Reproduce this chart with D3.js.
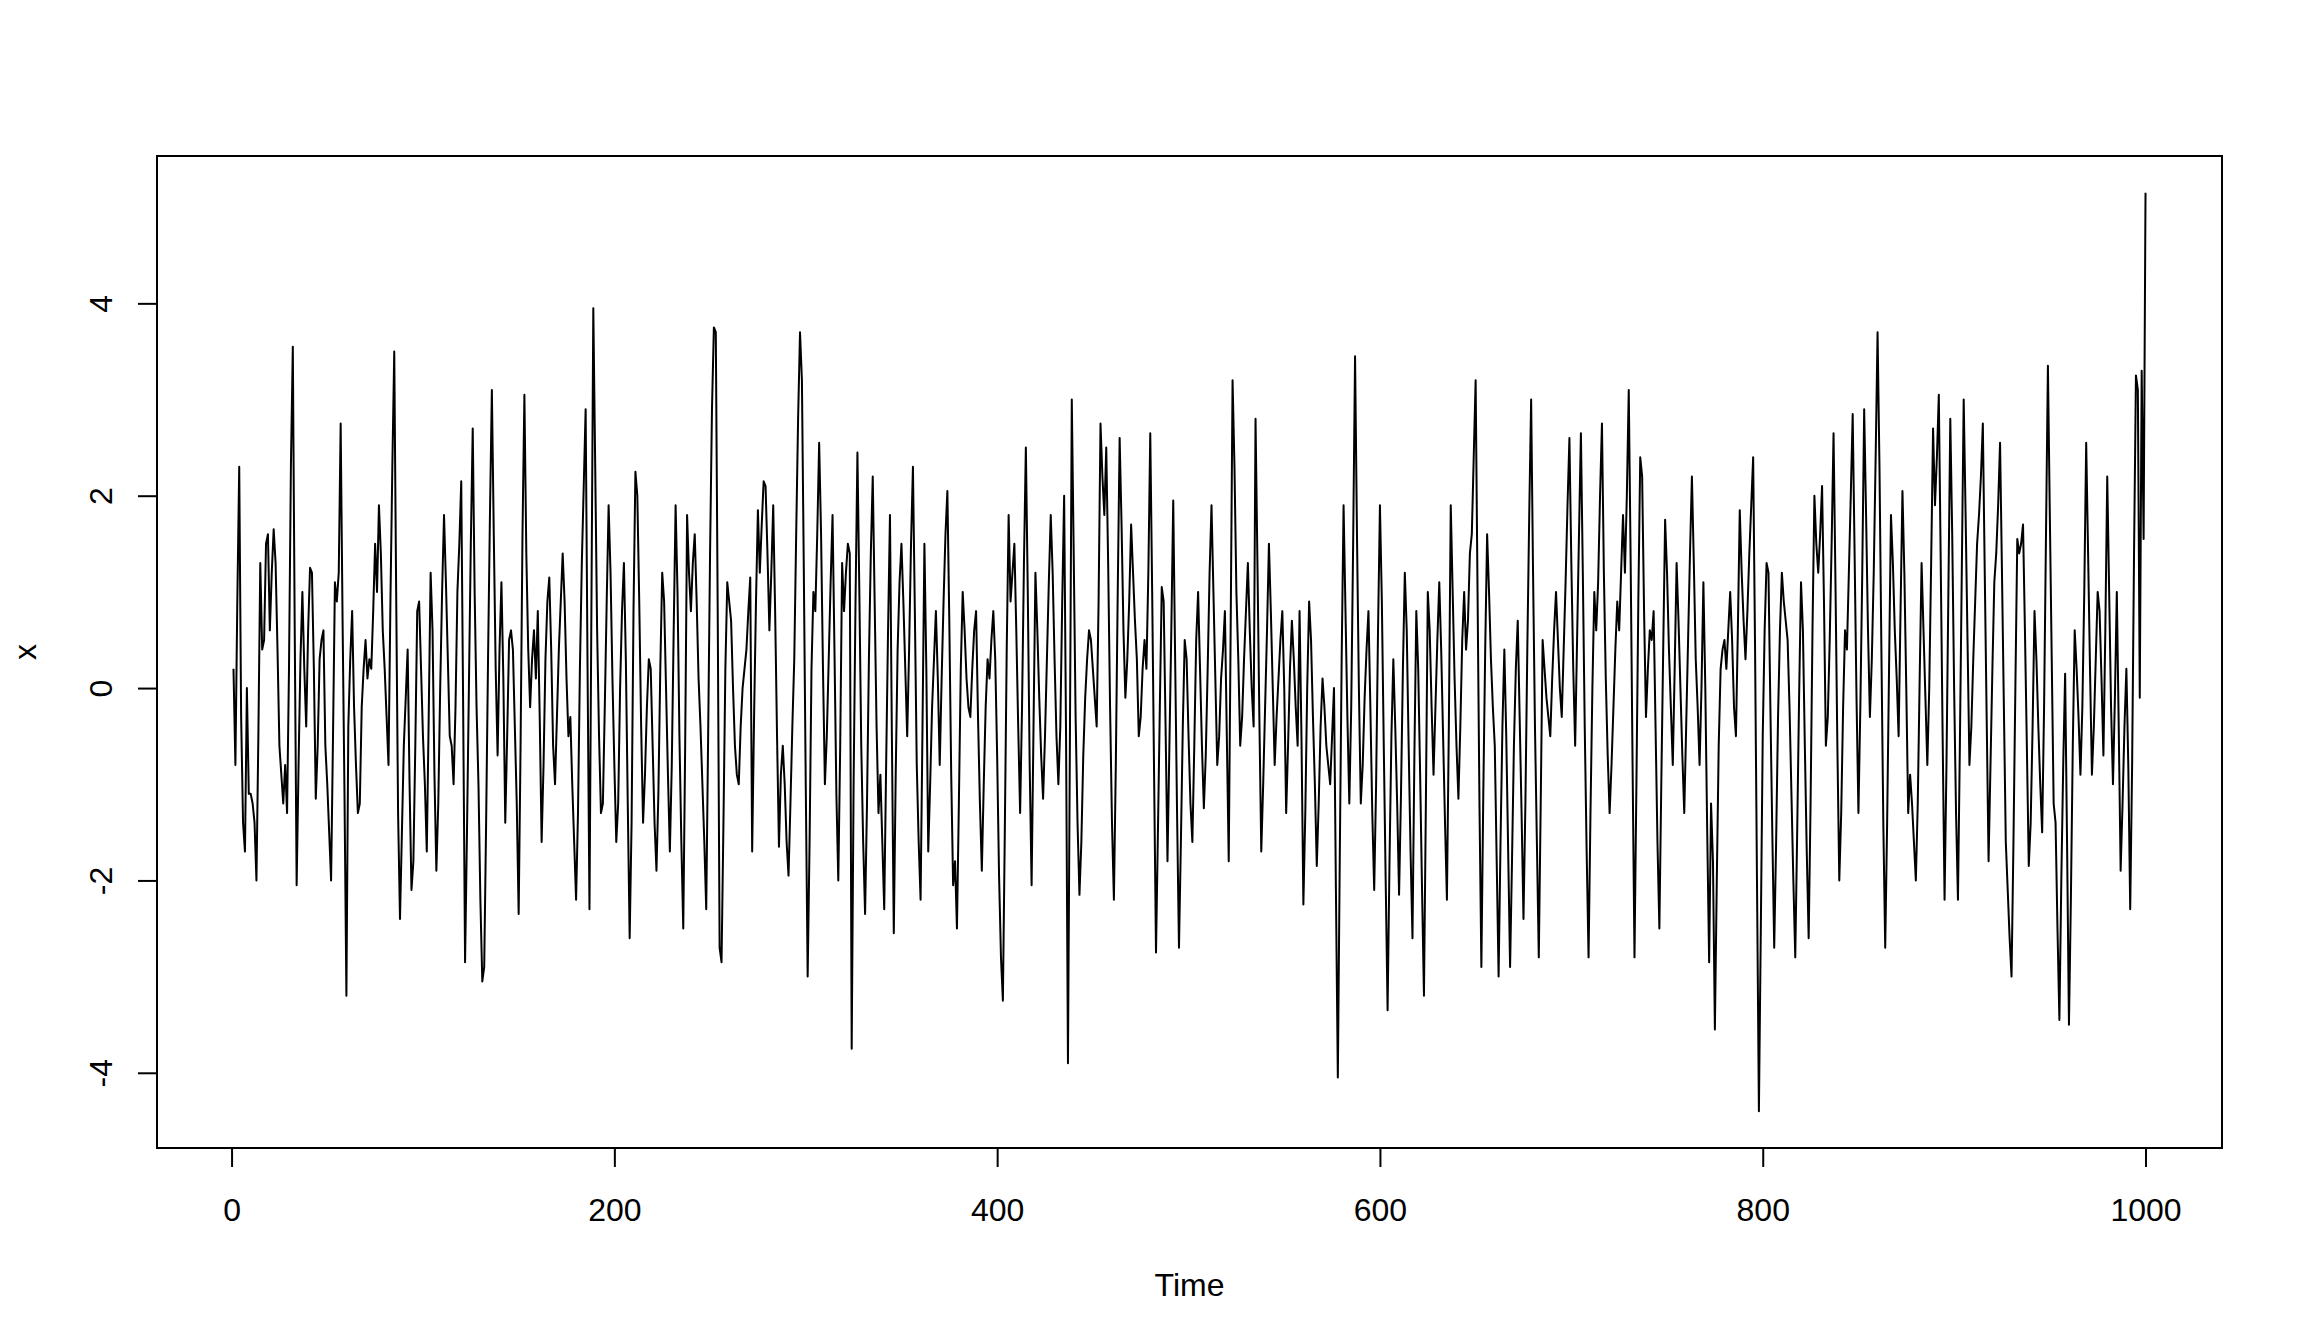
<!DOCTYPE html>
<html>
<head>
<meta charset="utf-8">
<script src="https://cdn.jsdelivr.net/npm/d3@7"></script>
<style>
  html, body { margin: 0; padding: 0; background: #ffffff; }
  svg text { font-family: "Liberation Sans", Arial, sans-serif; fill: #000; }
</style>
</head>
<body>
<svg id="chart" width="2304" height="1344"></svg>
<script>
// ---- data (time index 1..1000) ----
const xValues = [
 0.2,-0.8,0.9,2.3,-0.3,-1.4,-1.7,0.0,-1.1,-1.1,
 -1.2,-1.4,-2.0,-0.5,1.3,0.4,0.5,1.5,1.6,0.6,
 1.2,1.65,1.3,0.4,-0.6,-0.9,-1.2,-0.8,-1.3,0.2,
 2.3,3.55,0.6,-2.05,-0.8,0.3,1.0,0.2,-0.4,0.6,
 1.25,1.2,0.2,-1.15,-0.6,0.3,0.5,0.6,-0.6,-1.0,
 -1.5,-2.0,-0.5,1.1,0.9,1.2,2.75,0.7,-1.1,-3.2,
 -0.4,0.3,0.8,-0.2,-0.8,-1.3,-1.2,-0.2,0.2,0.5,
 0.1,0.3,0.2,0.8,1.5,1.0,1.9,1.4,0.6,0.2,
 -0.3,-0.8,0.9,2.3,3.5,1.0,-1.3,-2.4,-1.5,-0.6,
 -0.1,0.4,-1.0,-2.1,-1.8,-0.6,0.8,0.9,0.2,-0.5,
 -1.0,-1.7,-0.3,1.2,0.6,-0.9,-1.9,-1.2,0.0,1.0,
 1.8,1.1,0.3,-0.5,-0.6,-1.0,-0.2,1.0,1.5,2.15,
 -0.2,-2.85,-1.5,0.0,1.5,2.7,1.0,-0.2,-1.0,-2.2,
 -3.05,-2.9,-1.4,0.3,1.8,3.1,1.6,0.2,-0.7,0.4,
 1.1,0.1,-1.4,-0.5,0.5,0.6,0.4,-0.4,-1.2,-2.35,
 -0.6,1.6,3.05,1.4,0.4,-0.2,0.3,0.6,0.1,0.8,
 -0.3,-1.6,-0.8,0.3,0.9,1.15,0.4,-0.6,-1.0,-0.3,
 0.4,0.9,1.4,0.9,0.1,-0.5,-0.3,-1.0,-1.6,-2.2,
 -1.3,0.2,1.3,2.1,2.9,0.2,-2.3,0.8,3.95,2.3,
 0.6,-0.5,-1.3,-1.2,-0.2,0.9,1.9,1.2,0.1,-0.8,
 -1.6,-1.2,0.0,0.8,1.3,0.3,-1.2,-2.6,-1.4,0.8,
 2.25,2.0,0.9,-0.4,-1.4,-0.9,-0.2,0.3,0.2,-0.6,
 -1.4,-1.9,-1.1,0.2,1.2,0.9,0.0,-0.9,-1.7,-0.8,
 0.6,1.9,1.0,-0.5,-1.6,-2.5,-0.6,1.8,1.2,0.8,
 1.3,1.6,0.9,0.1,-0.4,-1.0,-1.6,-2.3,-0.5,1.4,
 2.9,3.75,3.7,0.8,-2.7,-2.85,-1.4,0.2,1.1,0.9,
 0.7,0.0,-0.6,-0.9,-1.0,-0.4,0.0,0.2,0.4,0.8,
 1.15,-1.7,-0.3,0.9,1.85,1.2,1.7,2.15,2.1,1.4,
 0.6,1.2,1.9,0.8,-0.5,-1.65,-0.9,-0.6,-1.0,-1.6,
 -1.95,-1.2,-0.4,0.3,1.6,2.8,3.7,3.2,1.2,-1.0,
 -3.0,-1.6,0.2,1.0,0.8,1.6,2.55,1.6,0.2,-1.0,
 -0.5,0.3,1.1,1.8,0.4,-1.1,-2.0,-0.6,1.3,0.8,
 1.2,1.5,1.4,-3.75,-1.0,0.9,2.45,1.0,-0.6,-1.6,
 -2.35,-1.2,0.3,1.4,2.2,0.9,-0.4,-1.3,-0.9,-1.6,
 -2.3,-0.8,0.6,1.8,-0.5,-2.55,-0.9,0.4,1.1,1.5,
 0.9,0.2,-0.5,0.4,1.5,2.3,0.8,-0.8,-1.6,-2.2,
 -0.4,1.5,0.2,-1.7,-1.0,-0.2,0.3,0.8,0.1,-0.8,
 0.1,0.9,1.6,2.05,0.7,-0.9,-2.05,-1.8,-2.5,-1.2,
 0.2,1.0,0.6,0.1,-0.2,-0.3,0.2,0.6,0.8,-0.3,
 -1.2,-1.9,-1.0,-0.2,0.3,0.1,0.5,0.8,0.3,-0.7,
 -1.95,-2.8,-3.25,-1.5,0.4,1.8,0.9,1.2,1.5,0.6,
 -0.4,-1.3,-0.2,1.3,2.5,1.0,-0.8,-2.05,-0.4,1.2,
 0.6,-0.1,-0.7,-1.15,-0.5,0.3,1.1,1.8,1.2,0.3,
 -0.5,-1.0,-0.4,0.9,2.0,-0.5,-3.9,-0.6,3.0,1.4,
 -0.3,-1.4,-2.15,-1.6,-0.7,-0.1,0.3,0.6,0.5,0.2,
 -0.1,-0.4,0.9,2.75,2.2,1.8,2.5,1.3,-0.2,-1.4,
 -2.2,-0.8,1.0,2.6,1.7,0.6,-0.1,0.3,0.9,1.7,
 1.2,0.7,0.3,-0.5,-0.3,0.2,0.5,0.2,1.2,2.65,
 1.0,-0.9,-2.75,-1.5,-0.2,1.05,0.9,-0.4,-1.8,-0.6,
 0.6,1.95,0.3,-1.3,-2.7,-1.6,-0.4,0.5,0.3,-0.5,
 -1.2,-1.6,-0.6,0.5,1.0,0.2,-0.6,-1.25,-0.7,0.2,
 1.2,1.9,1.0,0.1,-0.8,-0.5,0.1,0.4,0.8,-0.5,
 -1.8,0.6,3.2,2.3,1.0,0.3,-0.6,-0.3,0.3,0.8,
 1.3,0.6,0.0,-0.4,2.8,1.3,-0.3,-1.7,-1.0,-0.2,
 0.6,1.5,0.8,0.0,-0.8,-0.3,0.1,0.5,0.8,0.0,
 -1.3,-0.6,0.2,0.7,0.3,-0.2,-0.6,0.8,-0.5,-2.25,
 -1.3,0.0,0.9,0.5,-0.3,-1.0,-1.85,-1.2,-0.4,0.1,
 -0.2,-0.6,-0.8,-1.0,-0.5,0.0,-2.1,-4.05,-1.8,0.3,
 1.9,0.8,-0.3,-1.2,-0.2,1.5,3.45,1.6,0.0,-1.2,
 -0.8,-0.1,0.4,0.8,-0.2,-1.3,-2.1,-1.0,0.6,1.9,
 0.9,-0.6,-2.0,-3.35,-1.8,-0.5,0.3,-0.4,-1.2,-2.15,
 -1.1,0.2,1.2,0.6,-0.6,-1.7,-2.6,-0.7,0.8,0.2,
 -0.9,-2.1,-3.2,-1.2,1.0,0.6,-0.2,-0.9,-0.2,0.5,
 1.1,0.4,-0.5,-1.4,-2.2,-0.4,1.9,1.0,0.1,-0.6,
 -1.15,-0.4,0.5,1.0,0.4,0.7,1.4,1.6,2.4,3.2,
 1.0,-1.2,-2.9,-1.1,0.4,1.6,1.0,0.3,-0.2,-0.6,
 -1.8,-3.0,-1.6,-0.4,0.4,-0.5,-1.7,-2.9,-1.8,-0.6,
 0.2,0.7,-0.3,-1.3,-2.4,-1.2,0.4,1.8,3.0,1.2,
 -0.4,-1.6,-2.8,-1.2,0.5,0.2,-0.1,-0.3,-0.5,0.1,
 0.6,1.0,0.5,0.0,-0.3,0.4,1.1,1.9,2.6,1.3,
 0.2,-0.6,0.5,1.6,2.65,1.2,-0.4,-1.7,-2.8,-1.3,
 0.0,1.0,0.6,1.1,2.0,2.75,1.2,0.1,-0.7,-1.3,
 -0.8,-0.2,0.4,0.9,0.6,1.2,1.8,1.2,2.0,3.1,
 1.3,-0.8,-2.8,-1.0,0.9,2.4,2.2,0.8,-0.3,0.2,
 0.6,0.5,0.8,-0.4,-1.6,-2.5,-1.0,0.4,1.75,1.2,
 0.4,-0.2,-0.8,0.2,1.3,0.7,0.0,-0.7,-1.3,-0.4,
 0.5,1.4,2.2,1.3,0.3,-0.2,-0.8,0.0,1.1,0.0,
 -1.5,-2.85,-1.2,-1.8,-3.55,-2.0,-0.6,0.2,0.4,0.5,
 0.2,0.6,1.0,0.5,-0.2,-0.5,0.6,1.85,1.2,0.7,
 0.3,0.8,1.4,1.9,2.4,0.4,-2.0,-4.4,-2.5,-0.5,
 0.6,1.3,1.2,-0.2,-1.5,-2.7,-1.6,-0.3,0.6,1.2,
 0.9,0.7,0.5,-0.2,-1.1,-2.0,-2.8,-1.5,-0.1,1.1,
 0.6,-0.6,-1.7,-2.6,-1.2,0.6,2.0,1.5,1.2,1.6,
 2.1,0.9,-0.6,-0.3,0.5,1.5,2.65,1.1,-0.6,-2.0,
 -1.3,-0.2,0.6,0.4,1.2,2.0,2.85,1.4,-0.1,-1.3,
 -0.2,1.2,2.9,1.8,0.6,-0.3,0.3,1.2,2.4,3.7,
 2.3,0.4,-1.4,-2.7,-1.4,0.2,1.8,1.3,0.6,0.1,
 -0.5,0.8,2.05,1.2,0.0,-1.3,-0.9,-1.2,-1.6,-2.0,
 -1.2,0.1,1.3,0.6,-0.1,-0.8,0.0,1.3,2.7,1.9,
 2.4,3.05,1.3,-0.5,-2.2,-0.8,1.0,2.8,1.6,0.0,
 -1.3,-2.2,-0.6,1.2,3.0,1.8,0.5,-0.8,-0.4,0.3,
 0.9,1.5,1.8,2.2,2.75,1.2,-0.3,-1.8,-0.8,0.2,
 1.1,1.4,1.9,2.55,1.2,-0.2,-1.6,-2.1,-2.6,-3.0,
 -1.6,0.0,1.55,1.4,1.5,1.7,0.6,-0.6,-1.85,-1.4,
 -0.4,0.8,0.3,-0.4,-1.0,-1.5,-0.2,1.6,3.35,1.8,
 0.3,-1.2,-1.4,-2.5,-3.45,-2.0,-0.8,0.15,-1.6,-3.5,
 -2.2,-0.6,0.6,0.2,-0.3,-0.9,-0.2,1.0,2.55,1.4,
 0.2,-0.9,-0.4,0.3,1.0,0.8,0.1,-0.7,0.6,2.2,
 1.0,-0.2,-1.0,-0.1,1.0,-0.4,-1.9,-1.2,-0.4,0.2,
 -0.8,-2.3,-0.8,1.4,3.25,3.1,-0.1,3.3,1.55,5.15
];
const timeValues = xValues.map((_, i) => i + 1);
const xTicks = [0, 200, 400, 600, 800, 1000];
const yTicks = [-4, -2, 0, 2, 4];
const xTitle = "Time";
const yTitle = "x";

// ---- layout (R base graphics look) ----
const W = 2304, H = 1344;
const plot = { left: 157, right: 2222, top: 156, bottom: 1148 };
const FONT = 32;
const TICK = 19;

const svg = d3.select("#chart");

const tExt = d3.extent(timeValues);
const tPad = (tExt[1] - tExt[0]) * 0.04;
const yExt = d3.extent(xValues);
const yPad = (yExt[1] - yExt[0]) * 0.04;

const xScale = d3.scaleLinear()
  .domain([tExt[0] - tPad, tExt[1] + tPad])
  .range([plot.left, plot.right]);
const yScale = d3.scaleLinear()
  .domain([yExt[0] - yPad, yExt[1] + yPad])
  .range([plot.bottom, plot.top]);

// series line
const line = d3.line()
  .x((d, i) => xScale(timeValues[i]))
  .y(d => yScale(d));
svg.append("path")
  .datum(xValues)
  .attr("d", line)
  .attr("fill", "none")
  .attr("stroke", "#000")
  .attr("stroke-width", 2)
  .attr("stroke-linejoin", "round");

// box
svg.append("rect")
  .attr("x", plot.left).attr("y", plot.top)
  .attr("width", plot.right - plot.left)
  .attr("height", plot.bottom - plot.top)
  .attr("fill", "none").attr("stroke", "#000").attr("stroke-width", 2);

// x axis
const xAxis = d3.axisBottom(xScale)
  .tickValues(xTicks)
  .tickSize(TICK)
  .tickPadding(0)
  .tickFormat(d3.format("d"));
const gx = svg.append("g")
  .attr("transform", `translate(0,${plot.bottom})`)
  .call(xAxis);
gx.select(".domain")
  .attr("d", `M${xScale(xTicks[0])},0H${xScale(xTicks[xTicks.length-1])}`)
  .attr("stroke", "#000").attr("stroke-width", 2);
gx.selectAll(".tick line").attr("stroke", "#000").attr("stroke-width", 2);
gx.selectAll(".tick text")
  .attr("y", 73).attr("dy", null)
  .attr("font-size", FONT)
  .attr("font-family", "Liberation Sans, Arial, sans-serif")
  .attr("fill", "#000");

// y axis
const yAxis = d3.axisLeft(yScale)
  .tickValues(yTicks)
  .tickSize(TICK)
  .tickFormat(d3.format("d"));
const gy = svg.append("g")
  .attr("transform", `translate(${plot.left},0)`)
  .call(yAxis);
gy.select(".domain")
  .attr("d", `M0,${yScale(yTicks[0])}V${yScale(yTicks[yTicks.length-1])}`)
  .attr("stroke", "#000").attr("stroke-width", 2);
gy.selectAll(".tick line").attr("stroke", "#000").attr("stroke-width", 2);
gy.selectAll(".tick text")
  .attr("x", null).attr("dy", null)
  .attr("transform", "translate(-45,0) rotate(-90)")
  .attr("text-anchor", "middle")
  .attr("font-size", FONT)
  .attr("font-family", "Liberation Sans, Arial, sans-serif")
  .attr("fill", "#000")
  .text(d => d3.format("d")(d).replace("−", "-"));

// axis titles
svg.append("text")
  .attr("x", (plot.left + plot.right) / 2)
  .attr("y", 1296)
  .attr("text-anchor", "middle")
  .attr("font-size", FONT)
  .text(xTitle);
svg.append("text")
  .attr("transform", `translate(36,${(plot.top + plot.bottom) / 2}) rotate(-90)`)
  .attr("text-anchor", "middle")
  .attr("font-size", FONT)
  .text(yTitle);
</script>
</body>
</html>
